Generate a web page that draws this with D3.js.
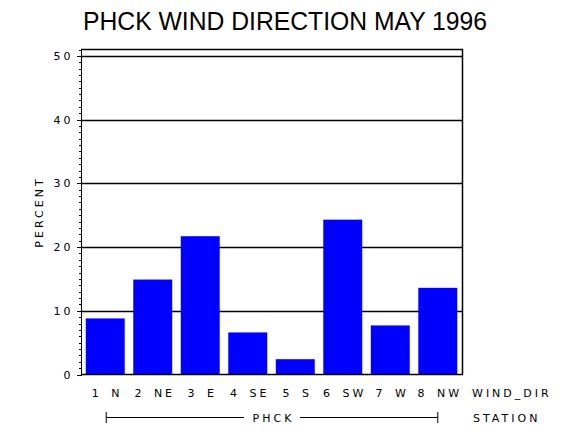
<!DOCTYPE html>
<meta charset="utf-8">
<style>
body { margin: 0; background: #fff; }
svg { display: block; }
.title { font: 25px "Liberation Sans", Arial, sans-serif; }
.lbl { font: 11px "DejaVu Sans", sans-serif; letter-spacing: 3px; fill: #000; }
.cat { word-spacing: 3px; }
.grid line { stroke: #000; stroke-width: 1.3px; }
.axis path, .axis line { stroke: #000; shape-rendering: crispEdges; }
.bar { fill: #0000ff; }
</style>
<body>
<svg width="570" height="430"></svg>
<script src="https://cdn.jsdelivr.net/npm/d3@7"></script>
<script>

// wind direction categories and percent of observations
let categories = ['1 N', '2 NE', '3 E', '4 SE', '5 S', '6 SW', '7 W', '8 NW'];
let percents = [8.8, 14.9, 21.7, 6.6, 2.4, 24.3, 7.7, 13.6];
let majorTicks = [0, 10, 20, 30, 40, 50];
let titleText = 'PHCK WIND DIRECTION MAY 1996';
let stationName = 'PHCK';

let svg = d3.select('svg');
let plotLeft = 81, plotRight = 462, plotTop = 49.5, plotBottom = 374.5;

let x = d3.scaleBand()
  .domain(categories)
  .range([plotLeft, plotRight])
  .paddingInner(0.18)
  .paddingOuter(0.1);

let y = d3.scaleLinear()
  .domain([0, 51])
  .range([plotBottom, plotTop]);

// title
svg.append('text')
  .attr('class', 'title')
  .attr('x', 83)
  .attr('y', 30)
  .attr('textLength', 404)
  .attr('lengthAdjust', 'spacingAndGlyphs')
  .text(titleText);

// grid lines
svg.append('g')
  .attr('class', 'grid')
  .selectAll('line')
  .data(majorTicks.slice(1))
  .join('line')
  .attr('x1', plotLeft).attr('x2', plotRight)
  .attr('y1', d => Math.round(y(d)) + 0.5)
  .attr('y2', d => Math.round(y(d)) + 0.5);

// bars
svg.append('g')
  .selectAll('rect')
  .data(percents)
  .join('rect')
  .attr('class', 'bar')
  .attr('x', (d, i) => x(categories[i]))
  .attr('width', x.bandwidth())
  .attr('y', d => y(d))
  .attr('height', d => y(0) - y(d));

// frame (top and right)
svg.append('path')
  .attr('d', `M${plotLeft},${plotTop}H${plotRight + 0.5}V${plotBottom}`)
  .attr('fill', 'none')
  .attr('stroke', '#000')
  .attr('stroke-width', 1.5);

// bottom axis line
svg.append('line')
  .attr('x1', plotLeft).attr('x2', plotRight + 1)
  .attr('y1', plotBottom).attr('y2', plotBottom)
  .attr('stroke', '#000').attr('stroke-width', 1.5);

// y axis: minor ticks every 1, major every 10
let yAxis = svg.append('g')
  .attr('class', 'axis')
  .attr('transform', `translate(${plotLeft + 0.5},0)`);

yAxis.append('line')
  .attr('y1', plotTop).attr('y2', plotBottom)
  .attr('stroke', '#000');

yAxis.selectAll('.minor')
  .data(d3.range(0, 52))
  .join('line')
  .attr('class', 'minor')
  .attr('x1', d => d % 10 === 0 ? -5 : -3)
  .attr('x2', 0)
  .attr('y1', d => Math.round(y(d)) + 0.5)
  .attr('y2', d => Math.round(y(d)) + 0.5);

yAxis.selectAll('text')
  .data(majorTicks)
  .join('text')
  .attr('class', 'lbl')
  .attr('x', -8)
  .attr('y', d => y(d) + 4)
  .attr('text-anchor', 'end')
  .text(d => d);

// y axis title
svg.append('text')
  .attr('class', 'lbl')
  .attr('transform', 'translate(43,212) rotate(-90)')
  .attr('text-anchor', 'middle')
  .text('PERCENT');

// category labels
svg.append('g')
  .selectAll('text')
  .data(categories)
  .join('text')
  .attr('class', 'lbl cat')
  .attr('x', d => x(d) + x.bandwidth() / 2 + 2)
  .attr('y', 397)
  .attr('text-anchor', 'middle')
  .text(d => d);

svg.append('text')
  .attr('class', 'lbl')
  .attr('x', 472)
  .attr('y', 397)
  .text('WIND_DIR');

// station bracket spans first to last category centre
let bx1 = x(categories[0]) + x.bandwidth() / 2 + 1,
    bx2 = x(categories[categories.length - 1]) + x.bandwidth() / 2;
let mid = (bx1 + bx2) / 2;
svg.append('path')
  .attr('fill', 'none')
  .attr('stroke', '#000')
  .attr('d', `M${bx1},412V423M${bx1},417.5H${mid - 28}M${mid + 28},417.5H${bx2}M${bx2},412V423`);

svg.append('text')
  .attr('class', 'lbl')
  .attr('x', mid + 1.5)
  .attr('y', 422)
  .attr('text-anchor', 'middle')
  .text(stationName);

svg.append('text')
  .attr('class', 'lbl')
  .attr('x', 473)
  .attr('y', 422)
  .text('STATION');

</script>
</body>
